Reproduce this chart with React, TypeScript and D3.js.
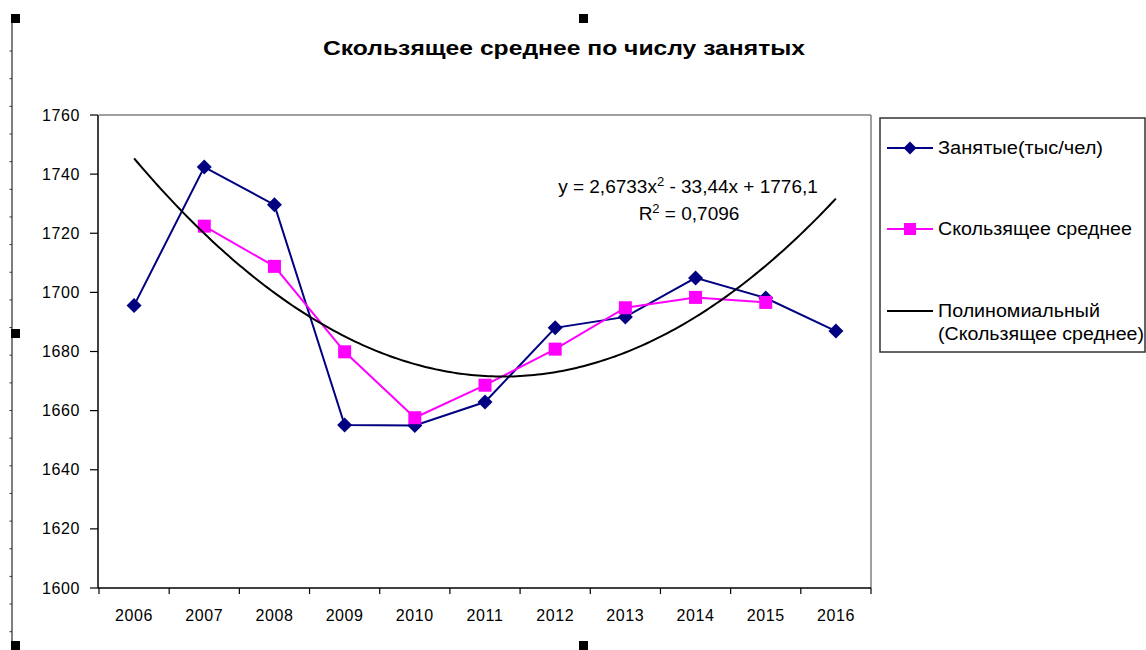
import React from "react";
import * as d3 from "d3";

const years = ["2006", "2007", "2008", "2009", "2010", "2011", "2012", "2013", "2014", "2015", "2016"];
const employed = [1695.6, 1742.4, 1729.6, 1655.1, 1655.0, 1662.9, 1688.0, 1691.7, 1704.9, 1698.1, 1686.9];
const movingAvgYears = ["2007", "2008", "2009", "2010", "2011", "2012", "2013", "2014", "2015"];
const movingAvg = [1722.4, 1708.8, 1679.9, 1657.6, 1668.6, 1680.8, 1694.8, 1698.3, 1696.6];
const trendCoeffs = [2.6733, -33.44, 1776.1]; // a, b, c of displayed equation
const yTicks = [1600, 1620, 1640, 1660, 1680, 1700, 1720, 1740, 1760];
const legendLabels = ["Занятые(тыс/чел)", "Скользящее среднее", "Полиномиальный", "(Скользящее среднее)"];
const titleText = "Скользящее среднее по числу занятых";

const W = 1146;
const H = 650;
const plot = { left: 99, right: 871, top: 115, bottom: 588 };
const NAVY = "#000080";
const MAGENTA = "#FF00FF";
const FONT = "Arial, 'Liberation Sans', sans-serif";

export default function App() {
  const x = d3.scaleBand<string>().domain(years).range([plot.left, plot.right]).padding(0);
  const cx = (yr: string) => (x(yr) as number) + x.bandwidth() / 2;
  const y = d3.scaleLinear().domain([1600, 1760]).range([plot.bottom, plot.top]);
  const xi = d3.scaleLinear().domain([1, years.length]).range([cx(years[0]), cx(years[years.length - 1])]);

  const line = d3.line<[number, number]>().x((d) => d[0]).y((d) => d[1]);
  const empPts: [number, number][] = years.map((yr, i) => [cx(yr), y(employed[i])]);
  const maPts: [number, number][] = movingAvgYears.map((yr, i) => [cx(yr), y(movingAvg[i])]);
  const trendPts: [number, number][] = d3.range(1, years.length + 0.001, 0.05).map((t) => {
    const v = trendCoeffs[0] * t * t + trendCoeffs[1] * t + trendCoeffs[2];
    return [xi(t), y(v)];
  });

  const diamond = (px: number, py: number, r: number) =>
    `M${px},${py - r}L${px + r},${py}L${px},${py + r}L${px - r},${py}Z`;

  const rulerTicks = d3.range(1, 23).map((k) => 23.4 + k * 27.65);
  const handles: [number, number][] = [
    [11, 14], [579, 14], [11, 329], [11, 641], [579, 641],
  ];
  const bandEdges = d3.range(0, years.length + 1).map((i) => plot.left + i * x.bandwidth());

  const legX = 880;
  const legItems = [
    { yc: 148, kind: "emp" },
    { yc: 229, kind: "ma" },
    { yc: 311, kind: "trend" },
  ];
  const legText = [
    { y: 154, len: 165 },
    { y: 235, len: 194 },
    { y: 317, len: 162 },
    { y: 340, len: 206 },
  ];

  return (
    <svg width={W} height={H} style={{ position: "absolute", left: 0, top: 0, background: "#fff" }}
      fontFamily={FONT}>
      <rect x={0} y={0} width={W} height={H} fill="#fff" />
      {/* left ruler */}
      <line x1={12} y1={18} x2={12} y2={H} stroke="#555" strokeWidth={1.5} />
      {rulerTicks.map((t, i) => (
        <line key={i} x1={9.5} x2={12} y1={t} y2={t} stroke="#333" strokeWidth={1} />
      ))}
      {handles.map(([hx, hy], i) => (
        <rect key={i} x={hx} y={hy} width={9} height={9} fill="#000" />
      ))}

      {/* title */}
      <text x={564} y={55} textAnchor="middle" fontSize={20} fontWeight="bold" fill="#000"
        textLength={482} lengthAdjust="spacingAndGlyphs">{titleText}</text>

      {/* plot border */}
      <line x1={plot.left} x2={plot.right} y1={plot.top} y2={plot.top} stroke="#808080" strokeWidth={1.5} />
      <line x1={plot.right} x2={plot.right} y1={plot.top} y2={plot.bottom} stroke="#808080" strokeWidth={1.5} />

      {/* y axis */}
      <line x1={plot.left - 1} x2={plot.left - 1} y1={plot.top} y2={plot.bottom} stroke="#000" strokeWidth={1.5} />
      {yTicks.map((t) => (
        <g key={t}>
          <line x1={plot.left - 9} x2={plot.left - 1} y1={y(t)} y2={y(t)} stroke="#000" strokeWidth={1.2} />
          <text x={80} y={y(t) + 5.5} textAnchor="end" fontSize={16} letterSpacing={0.6} fill="#000">{t}</text>
        </g>
      ))}

      {/* x axis */}
      <line x1={plot.left - 1} x2={plot.right} y1={plot.bottom} y2={plot.bottom} stroke="#000" strokeWidth={1.5} />
      {bandEdges.map((e, i) => (
        <line key={i} x1={e} x2={e} y1={plot.bottom} y2={plot.bottom + 6} stroke="#000" strokeWidth={1.2} />
      ))}
      {years.map((yr) => (
        <text key={yr} x={cx(yr)} y={621} textAnchor="middle" fontSize={16} letterSpacing={0.6} fill="#000">{yr}</text>
      ))}

      {/* series */}
      <path d={line(empPts) || ""} fill="none" stroke={NAVY} strokeWidth={2} />
      {empPts.map(([px, py], i) => (
        <path key={i} d={diamond(px, py, 7.5)} fill={NAVY} />
      ))}
      <path d={line(maPts) || ""} fill="none" stroke={MAGENTA} strokeWidth={2} />
      {maPts.map(([px, py], i) => (
        <rect key={i} x={px - 6.5} y={py - 6.5} width={13} height={13} fill={MAGENTA} />
      ))}
      <path d={line(trendPts) || ""} fill="none" stroke="#000" strokeWidth={2} />

      {/* equation */}
      <text x={688} y={193} textAnchor="middle" fontSize={19} fill="#000">
        y = 2,6733x<tspan dy={-7} fontSize={13}>2</tspan><tspan dy={7}> - 33,44x + 1776,1</tspan>
      </text>
      <text x={689} y={220} textAnchor="middle" fontSize={19} fill="#000">
        R<tspan dy={-7} fontSize={13}>2</tspan><tspan dy={7}> = 0,7096</tspan>
      </text>

      {/* legend */}
      <rect x={legX} y={118} width={W - legX - 1} height={234} fill="#fff" stroke="#333" strokeWidth={1.5} />
      {legItems.map((it) => (
        <g key={it.kind}>
          <line x1={887} x2={933} y1={it.yc} y2={it.yc}
            stroke={it.kind === "emp" ? NAVY : it.kind === "ma" ? MAGENTA : "#000"} strokeWidth={2} />
          {it.kind === "emp" && <path d={diamond(910, it.yc, 6.5)} fill={NAVY} />}
          {it.kind === "ma" && <rect x={904} y={it.yc - 6} width={12} height={12} fill={MAGENTA} />}
        </g>
      ))}
      {legendLabels.map((lbl, i) => (
        <text key={i} x={938} y={legText[i].y} fontSize={18} fill="#000"
          textLength={legText[i].len} lengthAdjust="spacingAndGlyphs">{lbl}</text>
      ))}
    </svg>
  );
}
